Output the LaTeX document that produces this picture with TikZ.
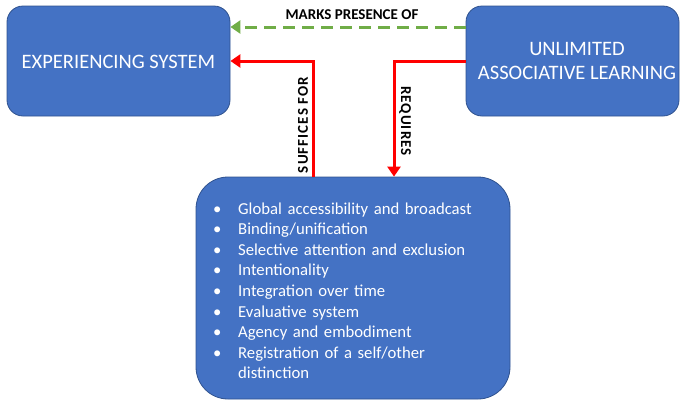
\documentclass[tikz,border=0pt]{standalone}
\usepackage{fontspec}
\setmainfont{Carlito}
\newfontfamily\spacedfont[LetterSpace=7]{Carlito}
\usetikzlibrary{arrows.meta}
\definecolor{boxblue}{HTML}{4472C4}
\definecolor{boxedge}{HTML}{2F528F}
\definecolor{arrred}{HTML}{FF0000}
\definecolor{arrgreen}{HTML}{70AD47}
\tikzset{
  bluebox/.style={draw=boxedge, line width=0.8pt, fill=boxblue, text=white, inner sep=0pt},
  redarrow/.style={draw=arrred, line width=3pt, -{Triangle[length=10pt,width=13pt]}},
  greenarrow/.style={draw=arrgreen, line width=3pt, dash pattern=on 12pt off 7pt, -{Triangle[length=10pt,width=13pt]}},
  lbl/.style={font=\fontsize{15}{17}\selectfont\bfseries, text=black, inner sep=0pt},
  vlbl/.style={font=\spacedfont\fontsize{15}{17}\selectfont\bfseries, text=black, inner sep=0pt},
  titletext/.style={font=\fontsize{20.5}{24}\selectfont, text=white, align=center, inner sep=0pt}
}
\begin{document}
\begin{tikzpicture}[x=1pt,y=-1pt]
\useasboundingbox (0,0) rectangle (680,402);
\node[bluebox, rounded corners=16pt, minimum width=223pt, minimum height=110pt] (exp) at (118.5,61) {};
\node[titletext] (expt) at (118.5,62) {EXPERIENCING SYSTEM};
\node[bluebox, rounded corners=16pt, minimum width=213pt, minimum height=110pt] (ual) at (572.5,61) {};
\node[titletext] (ualt) at (577,61) {UNLIMITED\\ASSOCIATIVE LEARNING};
\node[bluebox, rounded corners=32pt, minimum width=314pt, minimum height=222pt] (lst) at (353,288) {};
\node[text=white, font=\fontsize{16.7}{20.6}\selectfont, align=left, anchor=north west, inner sep=0pt, text width=290pt] (items) at (213,202.4) {%
\makebox[25pt][l]{\textbullet}Global accessibility and broadcast\\
\makebox[25pt][l]{\textbullet}Binding/unification\\
\makebox[25pt][l]{\textbullet}Selective attention and exclusion\\
\makebox[25pt][l]{\textbullet}Intentionality\\
\makebox[25pt][l]{\textbullet}Integration over time\\
\makebox[25pt][l]{\textbullet}Evaluative system\\
\makebox[25pt][l]{\textbullet}Agency and embodiment\\
\makebox[25pt][l]{\textbullet}Registration of a self/other\\
\hspace*{25pt}distinction};
% arrows
\draw[greenarrow] (ual.west |- 0,27) -- (exp.east |- 0,27);
\node[lbl] (mp) at (352,14.5) {MARKS PRESENCE OF};
\draw[redarrow] (lst.north -| 313,0) -- (313,61) -- (exp.east |- 0,61);
\node[vlbl, rotate=90] (suf) at (303,125) {SUFFICES FOR};
\draw[redarrow] (ual.west |- 0,61) -- (394,61) -- (394,0 |- lst.north);
\node[vlbl, rotate=-90] (req) at (405,121) {REQUIRES};
\end{tikzpicture}
\end{document}
